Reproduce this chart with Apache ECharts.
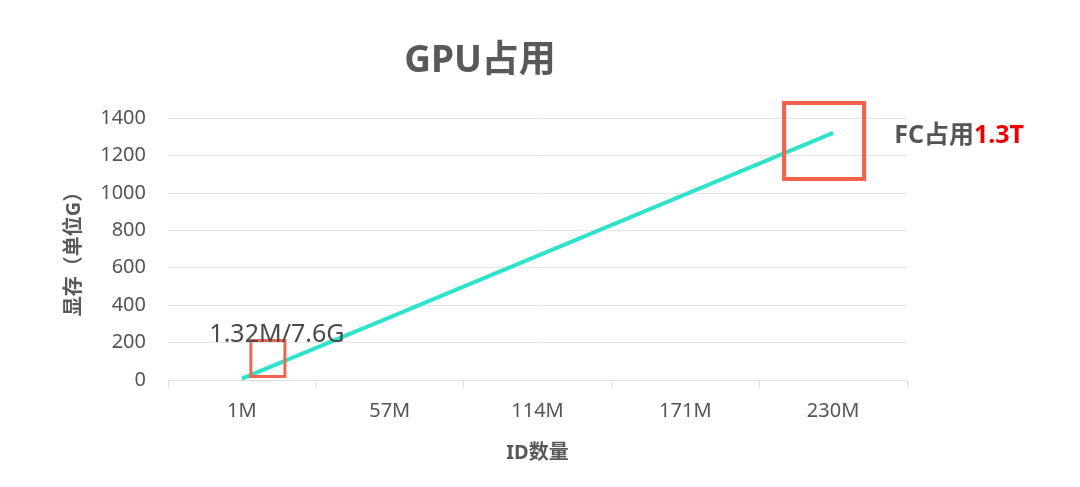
<!DOCTYPE html>
<html><head><meta charset="utf-8">
<script src="https://cdn.jsdelivr.net/npm/echarts@6/dist/echarts.min.js"></script>
<style>html,body{margin:0;padding:0;background:#fff}#c{width:1080px;height:487px}</style>
</head><body><div id="c"></div>
<script>
const categories = ['1M', '57M', '114M', '171M', '230M'];
const gpuMemory = [7.6, 335, 663, 992, 1320];
const yTicks = [0, 200, 400, 600, 800, 1000, 1200, 1400];
const startLabel = '1.32M/7.6G';
const endLabelName = 'FC占用';
const endLabelValue = '1.3T';

const FONT = '"Noto Sans", "Noto Sans CJK SC", sans-serif';
const chart = echarts.init(document.getElementById('c'));
chart.setOption({
  animation: false,
  textStyle: { fontFamily: FONT },
  title: {
    text: 'GPU占用', left: 475, top: 38, textAlign: 'center',
    textStyle: { fontSize: 37, fontWeight: 'bold', color: '#595959', fontFamily: FONT }
  },
  grid: { left: 168, right: 173, top: 118, bottom: 107 },
  xAxis: {
    type: 'category', data: categories, boundaryGap: true,
    name: 'ID数量', nameLocation: 'middle', nameGap: 63,
    nameTextStyle: { fontSize: 20, fontWeight: 'bold', color: '#595959' },
    axisLine: { lineStyle: { color: '#e0e0e0', width: 1 } },
    axisTick: { show: true, length: 8, lineStyle: { color: '#e0e0e0' } },
    axisLabel: { fontSize: 20, color: '#555', margin: 21 }
  },
  yAxis: {
    type: 'value', min: yTicks[0], max: yTicks[yTicks.length - 1], interval: 200,
    name: '显存（单位G）', nameLocation: 'middle', nameGap: 84, nameRotate: 90,
    nameTextStyle: { fontSize: 20, fontWeight: 'bold', color: '#595959' },
    axisLine: { show: false }, axisTick: { show: false },
    axisLabel: { fontSize: 20, color: '#555', margin: 22, formatter: v => String(v) },
    splitLine: { lineStyle: { color: '#e6e6e6', width: 1 } }
  },
  series: [{
    type: 'line', data: gpuMemory, showSymbol: false, symbol: 'none',
    lineStyle: { color: '#2ee3c9', width: 4 },
    markPoint: {
      silent: true,
      data: [
        {
          coord: [categories[0], gpuMemory[0]], symbol: 'rect', symbolSize: [34, 36],
          symbolOffset: [26, -20],
          itemStyle: { color: 'rgba(0,0,0,0)', borderColor: '#f4614c', borderWidth: 3 },
          label: { show: true, formatter: startLabel, position: 'top', distance: 0, offset: [9, 8],
                   fontSize: 25, color: '#4a4a4a', fontFamily: FONT }
        },
        {
          coord: [categories[4], gpuMemory[4]], symbol: 'rect', symbolSize: [80, 76],
          symbolOffset: [-9, 8],
          itemStyle: { color: 'rgba(0,0,0,0)', borderColor: '#f4614c', borderWidth: 4 },
          label: {
            show: true, position: 'right', distance: 28, offset: [0, -5],
            formatter: '{a|' + endLabelName + '}{b|' + endLabelValue + '}',
            rich: {
              a: { fontSize: 25, fontWeight: 'bold', color: '#555', fontFamily: FONT },
              b: { fontSize: 25, fontWeight: 'bold', color: '#f20000', fontFamily: FONT }
            }
          }
        }
      ]
    }
  }]
});
</script></body></html>
